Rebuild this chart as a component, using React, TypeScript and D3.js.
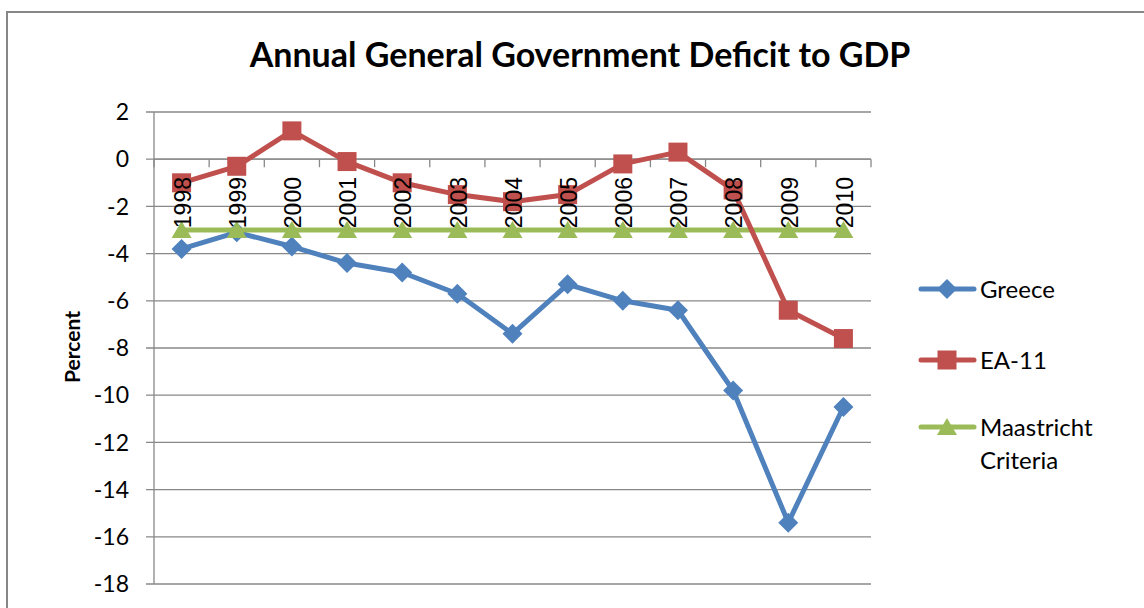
import * as d3 from "d3";
import React, { useEffect, useRef } from "react";

// annual deficit line chart
const years = ["1998", "1999", "2000", "2001", "2002", "2003", "2004", "2005", "2006", "2007", "2008", "2009", "2010"];
const greece = [-3.8, -3.1, -3.7, -4.4, -4.8, -5.7, -7.4, -5.3, -6.0, -6.4, -9.8, -15.4, -10.5];
const ea11 = [-1.0, -0.3, 1.2, -0.1, -1.0, -1.5, -1.8, -1.5, -0.2, 0.3, -1.3, -6.4, -7.6];
const maastricht = [-3, -3, -3, -3, -3, -3, -3, -3, -3, -3, -3, -3, -3];
const yTicks = [2, 0, -2, -4, -6, -8, -10, -12, -14, -16, -18];

const W = 1144;
const H = 608;
const LABEL_FONT = "Lato, 'Open Sans', sans-serif";
const CAT_FONT = "'Liberation Sans', Arial, sans-serif";

type Series = { name: string[]; values: number[]; color: string; marker: "diamond" | "square" | "triangle" };

const series: Series[] = [
  { name: ["Greece"], values: greece, color: "#4F81BD", marker: "diamond" },
  { name: ["Maastricht", "Criteria"], values: maastricht, color: "#9BBB59", marker: "triangle" },
  { name: ["EA-11"], values: ea11, color: "#C0504D", marker: "square" },
];
const legendOrder = [0, 2, 1];

const App: React.FC = () => {
  const ref = useRef<SVGSVGElement | null>(null);

  useEffect(() => {
    if (!ref.current) return;
    const svg = d3.select(ref.current);
    svg.selectAll("*").remove();

    const plot = { left: 154, right: 871, top: 112, bottom: 584 };

    const x = d3.scaleBand().domain(years).range([plot.left, plot.right]);
    const y = d3.scaleLinear().domain([-18, 2]).range([plot.bottom, plot.top]);
    const cx = (yr: string) => x(yr)! + x.bandwidth() / 2;

    // background + outer border
    svg.append("rect").attr("width", W).attr("height", H).attr("fill", "#fff");
    svg.append("rect")
      .attr("x", 7).attr("y", 12)
      .attr("width", W + 20).attr("height", H + 20)
      .attr("fill", "none").attr("stroke", "#878787").attr("stroke-width", 2);

    // title
    svg.append("text")
      .attr("x", 580).attr("y", 67)
      .attr("text-anchor", "middle")
      .style("font-family", LABEL_FONT)
      .style("font-weight", "bold")
      .style("font-size", "34px")
      .text("Annual General Government Deficit to GDP");

    // gridlines + y ticks
    const grid = svg.append("g");
    grid.selectAll("line")
      .data(yTicks)
      .enter()
      .append("line")
      .attr("x1", plot.left - 8).attr("x2", plot.right)
      .attr("y1", (d) => y(d)).attr("y2", (d) => y(d))
      .attr("stroke", "#888").attr("stroke-width", 1.3);
    svg.append("line")
      .attr("x1", plot.left).attr("x2", plot.left)
      .attr("y1", plot.top).attr("y2", plot.bottom)
      .attr("stroke", "#888").attr("stroke-width", 1.3);

    svg.append("g").selectAll("text")
      .data(yTicks)
      .enter()
      .append("text")
      .attr("x", 129)
      .attr("y", (d) => y(d))
      .attr("dy", "0.36em")
      .attr("text-anchor", "end")
      .style("font-family", LABEL_FONT)
      .style("font-size", "23px")
      .text((d) => String(d));

    // y title
    svg.append("text")
      .attr("transform", `translate(80,347) rotate(-90)`)
      .attr("text-anchor", "middle")
      .style("font-family", LABEL_FONT)
      .style("font-weight", "bold")
      .style("font-size", "21px")
      .text("Percent");

    // category axis at zero
    const y0 = y(0);
    svg.append("line")
      .attr("x1", plot.left).attr("x2", plot.right)
      .attr("y1", y0).attr("y2", y0)
      .attr("stroke", "#888").attr("stroke-width", 1.3);
    const bounds = years.map((yr) => x(yr)!).concat([plot.right]);
    svg.append("g").selectAll("line")
      .data(bounds)
      .enter()
      .append("line")
      .attr("x1", (d) => d).attr("x2", (d) => d)
      .attr("y1", y0).attr("y2", y0 + 8)
      .attr("stroke", "#888").attr("stroke-width", 1.3);

    // markers
    const drawMarker = (g: d3.Selection<SVGGElement, unknown, null, undefined>, kind: string, px: number, py: number, color: string) => {
      if (kind === "diamond") {
        const r = 10;
        g.append("path").attr("d", `M${px},${py - r}L${px + r},${py}L${px},${py + r}L${px - r},${py}Z`).attr("fill", color);
      } else if (kind === "square") {
        const s = 19;
        g.append("rect").attr("x", px - s / 2).attr("y", py - s / 2).attr("width", s).attr("height", s).attr("fill", color);
      } else {
        g.append("path").attr("d", `M${px},${py - 9}L${px + 10},${py + 8}L${px - 10},${py + 8}Z`).attr("fill", color);
      }
    };

    const line = d3.line<number>()
      .x((_d, i) => cx(years[i]))
      .y((d) => y(d));

    series.forEach((s) => {
      const g = svg.append("g");
      g.append("path")
        .attr("d", line(s.values)!)
        .attr("fill", "none")
        .attr("stroke", s.color)
        .attr("stroke-width", 5)
        .attr("stroke-linejoin", "round")
        .attr("stroke-linecap", "round");
      s.values.forEach((v, i) => drawMarker(g, s.marker, cx(years[i]), y(v), s.color));
    });

    // category labels (drawn on top)
    svg.append("g").selectAll("text")
      .data(years)
      .enter()
      .append("text")
      .attr("transform", (d) => `translate(${cx(d) + 1},177) rotate(-90)`)
      .attr("text-anchor", "end")
      .attr("dy", "0.36em")
      .style("font-family", CAT_FONT)
      .style("font-size", "23px")
      .text((d) => d);

    // legend
    const legendY = [289, 360, 427];
    legendOrder.forEach((si, k) => {
      const s = series[si];
      const ly = legendY[k];
      const g = svg.append("g");
      g.append("line")
        .attr("x1", 921).attr("x2", 974)
        .attr("y1", ly).attr("y2", ly)
        .attr("stroke", s.color).attr("stroke-width", 5)
        .attr("stroke-linecap", "round");
      drawMarker(g, s.marker, 947, ly, s.color);
      s.name.forEach((t, j) => {
        g.append("text")
          .attr("x", 980).attr("y", ly + j * 33)
          .attr("dy", "0.36em")
          .style("font-family", LABEL_FONT)
          .style("font-size", "24px")
          .text(t);
      });
    });
  }, []);

  return (
    <div style={{ position: "absolute", left: 0, top: 0 }}>
      <svg ref={ref} width={W} height={H} style={{ display: "block" }}></svg>
    </div>
  );
};

export default App;
